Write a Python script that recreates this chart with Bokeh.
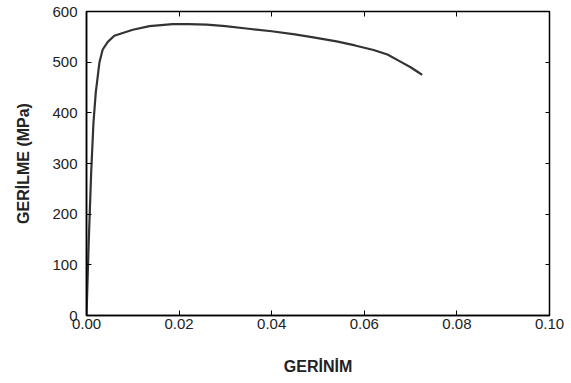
from bokeh.plotting import figure
from bokeh.models import LinearAxis, FixedTicker, Range1d, CustomJSTickFormatter
from bokeh.embed import file_html
from bokeh.resources import INLINE

strain = [0.0, 0.0005, 0.001, 0.0015, 0.002, 0.0028, 0.0035, 0.0046, 0.006, 0.008,
          0.010, 0.0136, 0.0186, 0.022, 0.026, 0.030, 0.035, 0.040, 0.045, 0.049,
          0.054, 0.058, 0.062, 0.065, 0.0678, 0.0700, 0.0715, 0.0725]
stress = [0, 150, 280, 380, 440, 500, 525, 540, 552, 558,
          564, 571, 575, 575, 574, 571, 566, 561, 555, 549,
          541, 533, 524, 515, 501, 490, 481, 475]
x_ticks = [0.0, 0.02, 0.04, 0.06, 0.08, 0.10]
y_ticks = [0, 100, 200, 300, 400, 500, 600]

p = figure(width=571, height=383, output_backend="svg", toolbar_location=None,
           x_range=Range1d(0, 0.10), y_range=Range1d(0, 600),
           min_border_left=86, min_border_right=22, min_border_top=11, min_border_bottom=68)
p.xgrid.visible = False
p.ygrid.visible = False
p.outline_line_color = "black"
p.outline_line_width = 1.5
p.background_fill_color = "white"
p.border_fill_color = "white"

p.line(strain, stress, line_color="#333333", line_width=2.2)

font = "Liberation Sans"
for ax in (p.xaxis[0], p.yaxis[0]):
    ax.axis_line_color = "black"
    ax.axis_line_width = 1.5
    ax.major_tick_in = 5
    ax.major_tick_out = 0
    ax.minor_tick_line_color = None
    ax.major_label_text_font = font
    ax.major_label_text_font_size = "15px"
    ax.major_label_text_color = "#222222"
    ax.axis_label_text_font = font
    ax.axis_label_text_font_style = "bold"
    ax.axis_label_text_font_size = "16px"
    ax.axis_label_text_color = "#222222"

p.xaxis[0].ticker = FixedTicker(ticks=x_ticks)
p.yaxis[0].ticker = FixedTicker(ticks=y_ticks)
p.xaxis[0].major_label_overrides = {t: f"{t:.2f}" for t in x_ticks}
p.xaxis[0].axis_label = "GERİNİM"
p.yaxis[0].axis_label = "GERİLME (MPa)"
p.xaxis[0].axis_label_standoff = 26
p.yaxis[0].axis_label_standoff = 17
p.xaxis[0].major_label_standoff = 3
p.yaxis[0].major_label_standoff = 9

blank = CustomJSTickFormatter(code="return ''")
top = LinearAxis(ticker=FixedTicker(ticks=x_ticks), formatter=blank,
                 major_tick_in=5, major_tick_out=0, minor_tick_line_color=None,
                 axis_line_color=None, major_label_standoff=0)
right = LinearAxis(ticker=FixedTicker(ticks=y_ticks), formatter=blank,
                   major_tick_in=4, major_tick_out=0, minor_tick_line_color=None,
                   axis_line_color=None, major_label_standoff=0)
p.add_layout(top, "above")
p.add_layout(right, "right")

open("out.html", "w").write(file_html(p, INLINE))
